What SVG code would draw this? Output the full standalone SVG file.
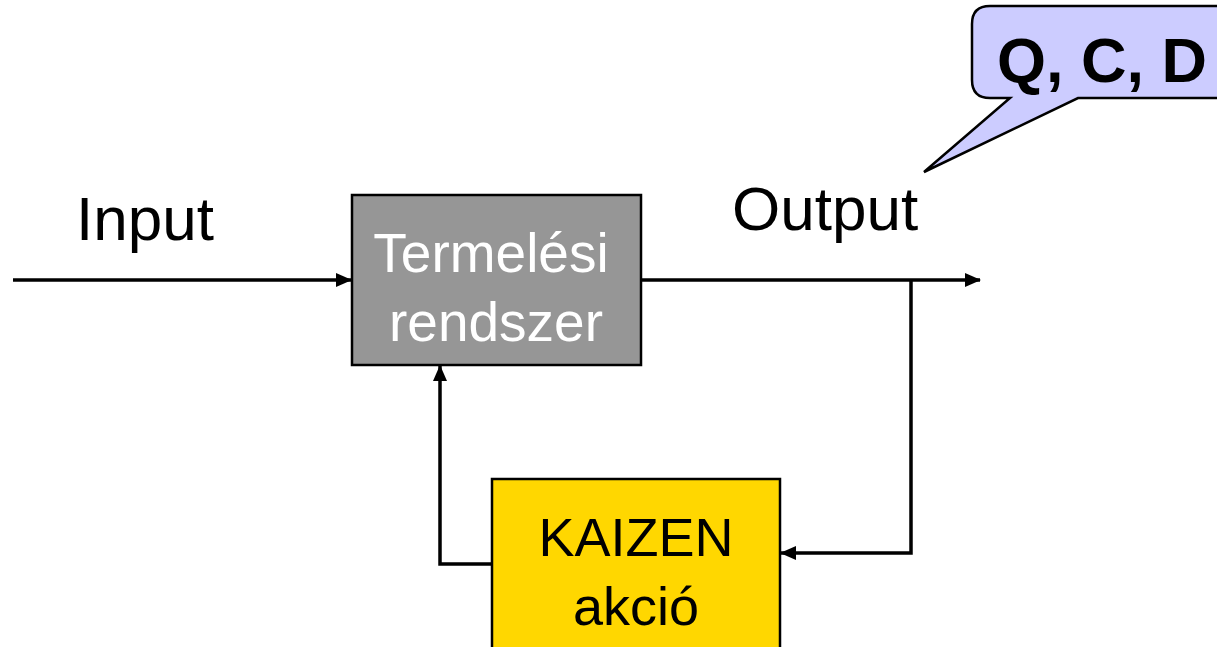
<svg xmlns="http://www.w3.org/2000/svg" width="1217" height="647" viewBox="0 0 1217 647">
<style>
.t{font-family:"Liberation Sans",Arial,sans-serif;}
.ln{stroke:#000;stroke-width:3.5;fill:none;}
</style>
<defs>
<marker id="ah" markerWidth="16" markerHeight="14" refX="15" refY="7" orient="auto" markerUnits="userSpaceOnUse">
<path d="M0,0 L16,7 L0,14 Z" fill="#000"/>
</marker>
</defs>
<rect width="1217" height="647" fill="#fff"/>
<g id="connectors">
<line class="ln" x1="13" y1="280" x2="351" y2="280" marker-end="url(#ah)"/>
<line class="ln" x1="641" y1="280" x2="980" y2="280" marker-end="url(#ah)"/>
<polyline class="ln" points="911,280 911,553 781,553" marker-end="url(#ah)"/>
<polyline class="ln" points="492,564 440,564 440,366" marker-end="url(#ah)"/>
</g>
<g id="callout">
<path d="M990,6 H1230 V98 H1078 L924,172 L1010,98 H990 Q972,98 972,80 V24 Q972,6 990,6 Z" fill="#CCCCFF" stroke="#000" stroke-width="2.5"/>
<text class="t" x="1102" y="82" font-size="63" font-weight="bold" text-anchor="middle">Q, C, D</text>
</g>
<g id="input-label"><text class="t" x="76" y="240" font-size="62">Input</text></g>
<g id="output-label"><text class="t" x="732" y="230" font-size="62">Output</text></g>
<g id="termelesi">
<rect x="352" y="195" width="289" height="170" fill="#969696" stroke="#000" stroke-width="2.5"/>
<text class="t" x="491" y="272" font-size="55" fill="#fff" text-anchor="middle">Termelési</text>
<text class="t" x="496" y="341" font-size="55" fill="#fff" text-anchor="middle">rendszer</text>
</g>
<g id="kaizen">
<rect x="492" y="479" width="288" height="190" fill="#FFD700" stroke="#000" stroke-width="2.5"/>
<text class="t" x="636" y="556" font-size="54" text-anchor="middle">KAIZEN</text>
<text class="t" x="636" y="625" font-size="54" text-anchor="middle">akció</text>
</g>
</svg>
